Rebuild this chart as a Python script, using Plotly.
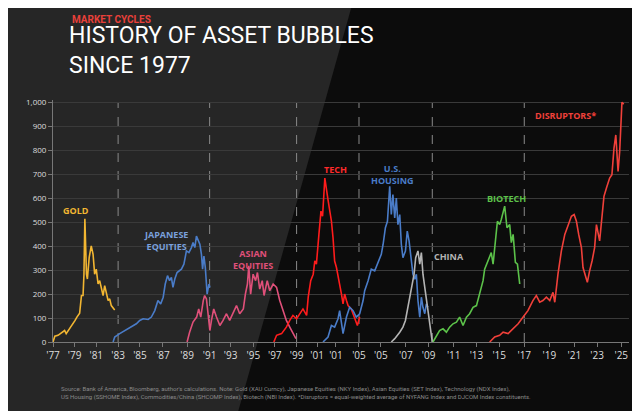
import plotly.graph_objects as go

# x is in axis units (one unit per tick label), y is the indexed value
gold_x = [0, 0.08, 0.22, 0.37, 0.51, 0.58, 0.73, 0.87, 0.97, 1.05, 1.17, 1.25, 1.32, 1.36, 1.40, 1.47,
          1.51, 1.59, 1.68, 1.76, 1.83, 1.9, 1.98, 2.05, 2.13, 2.2, 2.27, 2.34, 2.42, 2.49, 2.56, 2.71]
gold_y = [0, 24, 28, 37, 48, 35, 55, 73, 90, 104, 120, 194, 194, 283, 514, 283,
          263, 353, 401, 366, 283, 304, 242, 256, 228, 194, 235, 207, 173, 180, 152, 134]

japan_x = [2.64, 2.71, 2.93, 3.15, 3.37, 3.52, 3.66, 3.81, 3.96, 4.18, 4.32, 4.47, 4.61, 4.73, 4.84, 4.93,
           5.03, 5.12, 5.2, 5.27, 5.35, 5.45, 5.57, 5.64, 5.75, 5.86, 5.97, 6.08, 6.15, 6.23, 6.3, 6.37,
           6.45, 6.52, 6.57, 6.63, 6.69, 6.77, 6.85, 6.89]
japan_y = [0, 21, 35, 48, 62, 69, 76, 90, 97, 94, 104, 131, 173, 159, 187, 242,
           277, 256, 270, 228, 263, 290, 297, 304, 325, 380, 373, 394, 415, 394, 442, 422,
           408, 366, 304, 359, 311, 200, 242, 228]

asia_x = [5.89, 6.0, 6.15, 6.31, 6.4, 6.49, 6.6, 6.66, 6.74, 6.82, 6.89, 6.96, 7.06, 7.18, 7.33, 7.47,
          7.62, 7.76, 7.91, 8.06, 8.2, 8.36, 8.45, 8.54, 8.6, 8.68, 8.79, 8.9, 8.98, 9.08, 9.19, 9.27,
          9.41, 9.52, 9.67, 9.82, 9.96, 10.11, 10.25, 10.4, 10.54, 10.67]
asia_y = [0, 41, 83, 104, 138, 104, 173, 194, 180, 118, 48, 90, 138, 104, 69, 90,
          118, 90, 124, 152, 118, 138, 200, 242, 318, 200, 283, 256, 290, 221, 256, 194,
          256, 214, 242, 228, 173, 131, 90, 62, 35, 14]

tech_x = [9.7, 9.82, 10.04, 10.25, 10.4, 10.54, 10.7, 10.84, 10.98, 11.14, 11.21, 11.32, 11.43, 11.5,
          11.57, 11.68, 11.77, 11.84, 11.94, 12.08, 12.23, 12.3, 12.37, 12.45, 12.59, 12.67, 12.74,
          12.81, 12.89, 12.96, 13.1, 13.25, 13.37, 13.47]
tech_y = [0, 28, 35, 62, 90, 111, 97, 118, 138, 111, 187, 256, 283, 339,
          325, 449, 546, 525, 684, 593, 504, 435, 338, 311, 228, 200, 159,
          200, 173, 152, 138, 104, 69, 104]

housing_x = [11.86, 11.99, 12.08, 12.23, 12.37, 12.52, 12.59, 12.74, 12.89, 13.03, 13.18, 13.32, 13.47,
             13.62, 13.69, 13.84, 13.98, 14.13, 14.28, 14.42, 14.5, 14.6, 14.69, 14.79, 14.86, 14.93,
             15.01, 15.08, 15.15, 15.23, 15.3, 15.37, 15.48, 15.56, 15.64, 15.74, 15.81, 15.89, 15.96,
             16.03, 16.11, 16.18, 16.25, 16.33, 16.4, 16.47]
housing_y = [0, 14, 21, 69, 62, 97, 131, 35, 104, 145, 131, 104, 118,
             173, 214, 256, 304, 297, 332, 366, 408, 477, 504, 650, 532, 615,
             518, 601, 490, 532, 408, 352, 380, 463, 422, 325, 283, 262, 283,
             173, 104, 187, 145, 118, 159, 145]

china_x = [14.86, 15.01, 15.23, 15.37, 15.48, 15.59, 15.74, 15.86, 15.93, 16.03, 16.11, 16.18, 16.25,
           16.33, 16.4, 16.5, 16.59, 16.66]
china_y = [0, 14, 41, 62, 90, 145, 228, 283, 352, 380, 325, 373, 283,
           228, 173, 118, 62, 0]

biotech_x = [16.69, 16.84, 16.98, 17.13, 17.28, 17.42, 17.57, 17.72, 17.86, 18.01, 18.16, 18.3, 18.45,
             18.6, 18.74, 18.89, 18.96, 19.11, 19.25, 19.33, 19.43, 19.52, 19.62, 19.69, 19.84, 19.94,
             20.06, 20.13, 20.21, 20.31, 20.4, 20.5]
biotech_y = [0, 28, 48, 55, 41, 62, 76, 83, 104, 69, 104, 118, 145,
             152, 200, 256, 304, 339, 373, 325, 415, 504, 490, 511, 567, 477,
             490, 415, 449, 332, 325, 242]

disrupt_x = [19.18, 19.4, 19.62, 19.77, 19.99, 20.21, 20.43, 20.65, 20.86, 21.08, 21.23, 21.38, 21.52,
             21.67, 21.82, 21.96, 22.04, 22.18, 22.33, 22.48, 22.62, 22.77, 22.89, 22.99, 23.09, 23.21,
             23.28, 23.38, 23.47, 23.57, 23.68, 23.79, 23.87, 24.01, 24.11, 24.2, 24.31, 24.45, 24.55,
             24.64, 24.72, 24.82, 24.89, 24.99, 25.07]
disrupt_y = [0, 21, 28, 41, 35, 55, 76, 104, 131, 173, 194, 166, 173,
             187, 173, 207, 166, 283, 380, 449, 490, 525, 532, 504, 449, 394,
             311, 283, 249, 297, 339, 394, 490, 422, 518, 608, 643, 684, 698,
             808, 864, 712, 794, 1000, 993]

tick_pos = [0, 0.95, 1.9, 2.86, 3.82, 4.83, 5.89, 6.88, 7.8, 8.8, 9.74, 10.7, 11.6, 12.43,
            13.44, 14.4, 15.5, 16.5, 17.6, 18.6, 19.6, 20.7, 21.8, 22.9, 23.9, 24.96]
tick_text = ["'77", "'79", "'81", "'83", "'85", "'87", "'89", "'91", "'93", "'95", "'97", "'99", "'01",
             "'01", "'05", "'05", "'07", "'09", "'11", "'13", "'15", "'17", "'19", "'21", "'23", "'25"]
cycle_breaks = [2.86, 6.88, 10.7, 13.44, 16.66, 20.7]

series = [
    (gold_x, gold_y, "#f2b632"),
    (japan_x, japan_y, "#4a7cc8"),
    (asia_x, asia_y, "#e0507a"),
    (tech_x, tech_y, "#ff1c1c"),
    (housing_x, housing_y, "#4a7cc8"),
    (china_x, china_y, "#b4b4b4"),
    (biotech_x, biotech_y, "#5cc24a"),
    (disrupt_x, disrupt_y, "#f0403a"),
]

labels = [
    (1.0, 550, "GOLD", "#f2b632"),
    (4.96, 425, "JAPANESE<br>EQUITIES", "#7aa0dc"),
    (8.8, 345, "ASIAN<br>EQUITIES", "#e0507a"),
    (12.43, 720, "TECH", "#ff2a2a"),
    (14.9, 700, "U.S.<br>HOUSING", "#4a7cc8"),
    (17.4, 355, "CHINA", "#b4b4b4"),
    (19.9, 600, "BIOTECH", "#5cc24a"),
    (22.5, 945, "DISRUPTORS*", "#f0403a"),
]

fig = go.Figure()
for xs, ys, color in series:
    fig.add_trace(go.Scatter(x=xs, y=ys, mode="lines", line=dict(color=color, width=1.6),
                             showlegend=False, hoverinfo="skip"))

# grey wedge in the top-left of the background
fig.add_shape(type="path", xref="paper", yref="paper", layer="below",
              path="M -0.08 1.4 L 0.52 1.4 L 0.32 -0.3 L -0.08 -0.3 Z",
              fillcolor="#262626", line=dict(width=0))
for xb in cycle_breaks:
    fig.add_shape(type="line", x0=xb, x1=xb, y0=0, y1=1000, layer="below",
                  line=dict(color="#8a8a8a", width=1, dash="dash"))

for x, y, t, c in labels:
    fig.add_annotation(x=x, y=y, text="<b>" + t + "</b>", showarrow=False,
                       font=dict(color=c, size=9, family="Open Sans"))

fig.add_annotation(xref="paper", yref="paper", x=0.03, y=1.3, xanchor="left", yanchor="bottom",
                   text="<b>MARKET CYCLES</b>", showarrow=False,
                   font=dict(color="#e8403a", size=10, family="Roboto"))
fig.add_annotation(xref="paper", yref="paper", x=0.025, y=1.08, xanchor="left", yanchor="bottom",
                   text="HISTORY OF ASSET BUBBLES<br>SINCE 1977", showarrow=False, align="left",
                   font=dict(color="white", size=23, family="Roboto"))
fig.add_annotation(xref="paper", yref="paper", x=0.01, y=-0.17, xanchor="left", yanchor="top",
                   align="left", showarrow=False,
                   text="Source: Bank of America, Bloomberg, author's calculations. Note: Gold (XAU Curncy), "
                        "Japanese Equities (NKY Index), Asian Equities (SET Index), Technology (NDX Index),<br>"
                        "US Housing (SSHOME Index), Commodities/China (SHCOMP Index), Biotech (NBI Index). "
                        "*Disruptors = equal-weighted average of NYFANG Index and DJCOM Index constituents.",
                   font=dict(color="#8a8a8a", size=6, family="Roboto"))

fig.update_layout(
    width=640, height=411,
    margin=dict(l=45, r=19, t=92, b=77),
    paper_bgcolor="#0c0c0c", plot_bgcolor="rgba(0,0,0,0)",
    font=dict(family="Open Sans", color="#dddddd"),
    xaxis=dict(range=[0, 25.3], tickvals=tick_pos, ticktext=tick_text, showgrid=False, zeroline=False,
               showline=True, linecolor="#777777", ticks="outside", tickcolor="#777777", ticklen=4,
               tickfont=dict(size=10, color="#dddddd")),
    yaxis=dict(range=[0, 1010], tickvals=list(range(0, 1001, 100)), tickformat=",", showgrid=True,
               gridcolor="#3a3a3a", zeroline=False, showline=True, linecolor="#777777",
               ticks="outside", tickcolor="#777777", ticklen=4, tickfont=dict(size=8, color="#dddddd")),
)

fig.write_html("out.html")
